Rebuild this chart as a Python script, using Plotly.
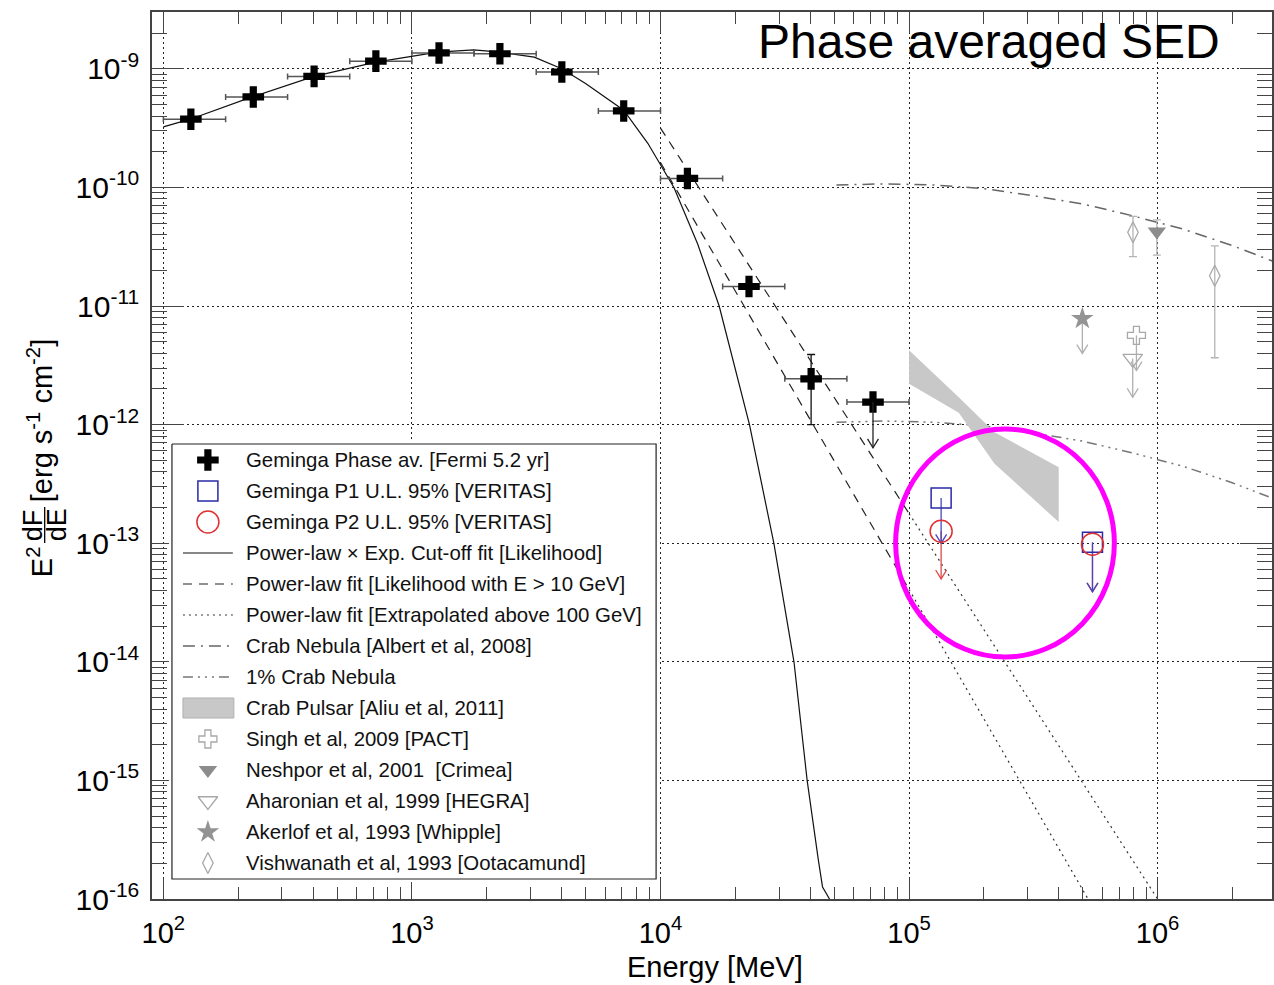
import plotly.graph_objects as go

# ---------------- data ----------------
# Fermi-LAT phase averaged SED (E in MeV, E^2 dF/dE in erg s^-1 cm^-2)
fermi_E   = [129, 230, 404, 716, 1285, 2259, 4009, 7112, 12830, 22700, 40360, 71600]
fermi_F   = [3.76e-10, 5.79e-10, 8.63e-10, 1.16e-09, 1.36e-09, 1.34e-09,
             9.4e-10, 4.41e-10, 1.19e-10, 1.46e-11, 2.43e-12, 1.55e-12]
fermi_Elo = [100, 178, 316, 562, 1000, 1778, 3162, 5623, 10000, 17783, 31623, 56234]
fermi_Ehi = [178, 316, 562, 1000, 1778, 3162, 5623, 10000, 17783, 31623, 56234, 100000]
fermi_Fhi = [3.76e-10, 5.79e-10, 8.63e-10, 1.16e-09, 1.36e-09, 1.34e-09,
             9.4e-10, 4.41e-10, 1.19e-10, 1.46e-11, 3.9e-12, 1.55e-12]
fermi_Flo = [3.76e-10, 5.79e-10, 8.63e-10, 1.16e-09, 1.36e-09, 1.34e-09,
             9.4e-10, 4.41e-10, 1.19e-10, 1.46e-11, 1.0e-12, 1.55e-12]
fermi_ul_E, fermi_ul_F, fermi_ul_tip = [71600], [1.55e-12], [6.37e-13]

# VERITAS 95% upper limits
p1_E, p1_F, p1_tip = [134600, 547000], [2.40e-13, 1.02e-13], [1.0e-13, 3.9e-14]
p2_E, p2_F, p2_tip = [134600, 547000], [1.26e-13, 9.8e-14], [5.0e-14, 3.9e-14]

# Power-law x exp. cut-off fit (log10 E, log10 E^2dF/dE)
cutoff_logE = [2.0, 2.108, 2.357, 2.606, 2.855, 3.104, 3.249, 3.354, 3.492, 3.603, 3.70,
               3.852, 3.949, 4.054, 4.15, 4.236, 4.358, 4.456, 4.537, 4.59, 4.635, 4.652, 4.68]
cutoff_logF = [-9.49, -9.425, -9.237, -9.064, -8.944, -8.860, -8.841, -8.860, -8.902, -9.0, -9.126,
               -9.349, -9.628, -10.0, -10.48, -11.0, -12.0, -13.0, -14.0, -15.0, -15.67, -15.9, -16.0]

# Power-law fit above 10 GeV (two bounding lines), dashed part and extrapolation
plA_dash_logE, plA_dash_logF = [4.0, 5.0], [-9.50, -12.75]
plB_dash_logE, plB_dash_logF = [4.0, 5.0], [-9.79, -13.39]
plA_dot_logE,  plA_dot_logF  = [5.0, 6.0], [-12.75, -16.0]
plB_dot_logE,  plB_dot_logF  = [5.0, 5.72], [-13.39, -16.0]

# Crab Nebula (MAGIC) and 1% Crab
crab_logE   = [4.708, 4.9, 5.1, 5.3, 5.5, 5.7, 5.9, 6.1, 6.3, 6.461]
crab_logF   = [-9.98, -9.97, -9.98, -10.01, -10.07, -10.14, -10.24, -10.35, -10.49, -10.62]
crab1_logF  = [-11.98, -11.97, -11.98, -12.01, -12.07, -12.14, -12.24, -12.35, -12.49, -12.62]

# Crab pulsar band (VERITAS 2011) polygon
band_E = [1.0e5, 1.585e5, 2.208e5, 4.0e5, 4.0e5, 2.208e5, 1.585e5, 1.0e5]
band_F = [4.23e-12, 1.70e-12, 8.61e-13, 4.37e-13, 1.51e-13, 4.68e-13, 1.26e-12, 2.21e-12]

# Historic measurements
vish_E, vish_F = [796000, 1698000], [4.19e-11, 1.80e-11]
vish_Fhi, vish_Flo = [5.69e-11, 3.21e-11], [2.61e-11, 3.66e-12]
nesh_E, nesh_F, nesh_Fhi, nesh_Flo = [993000], [4.25e-11], [5.32e-11], [2.69e-11]
aker_E, aker_F, aker_tip = [498000], [7.83e-12], [3.98e-12]
singh_E, singh_F, singh_tip = [822000], [5.66e-12], [2.86e-12]
ahar_E, ahar_F, ahar_tip = [794000], [3.60e-12], [1.70e-12]

# highlight ellipse (log10 bounds)
ell_logE = [4.946, 5.826]
ell_logF = [-13.96, -12.037]

# axis ticks
x_tickvals = [1e2, 1e3, 1e4, 1e5, 1e6]
x_ticktext = ["10<sup>2</sup>", "10<sup>3</sup>", "10<sup>4</sup>", "10<sup>5</sup>", "10<sup>6</sup>"]
y_tickvals = [1e-16, 1e-15, 1e-14, 1e-13, 1e-12, 1e-11, 1e-10, 1e-9]
y_ticktext = ["10<sup>-16</sup>", "10<sup>-15</sup>", "10<sup>-14</sup>", "10<sup>-13</sup>",
              "10<sup>-12</sup>", "10<sup>-11</sup>", "10<sup>-10</sup>", "10<sup>-9</sup>"]

legend_labels = [
    "Geminga Phase av. [Fermi 5.2 yr]",
    "Geminga P1 U.L. 95% [VERITAS]",
    "Geminga P2 U.L. 95% [VERITAS]",
    "Power-law \u00d7 Exp. Cut-off fit [Likelihood]",
    "Power-law fit [Likelihood with E > 10 GeV]",
    "Power-law fit [Extrapolated above 100 GeV]",
    "Crab Nebula [Albert et al, 2008]",
    "1% Crab Nebula",
    "Crab Pulsar [Aliu et al, 2011]",
    "Singh et al, 2009 [PACT]",
    "Neshpor et al, 2001 \u00a0[Crimea]",
    "Aharonian et al, 1999 [HEGRA]",
    "Akerlof et al, 1993 [Whipple]",
    "Vishwanath et al, 1993 [Ootacamund]",
]

# ---------------- layout geometry ----------------
FW, FH = 1274, 985
L, R, T, B = 152, 1274, 12, 899
PXW, PXH = R - L, B - T
X_PER_DEC, Y_PER_DEC = 249.0, 118.6
xr = [1.9542, 1.9542 + PXW / X_PER_DEC]
yr = [-16.0, -16.0 + PXH / Y_PER_DEC]

FONT = "Liberation Sans, Arial, Helvetica, sans-serif"

def px(xp):
    return (xp - L) / PXW

def py(yp):
    return (B - yp) / PXH

def tenpow(vals):
    return [10 ** v for v in vals]

def arrows(E, F, tip, hx=0.022, hy=0.075):
    xs, ys = [], []
    for e, f, t in zip(E, F, tip):
        xs += [e, e, None, e * 10 ** (-hx), e, e * 10 ** hx, None]
        ys += [f, t, None, t * 10 ** hy, t, t * 10 ** hy, None]
    return xs, ys

fig = go.Figure()

def line(xv, yv, color, width, dash="solid", **kw):
    fig.add_trace(go.Scatter(x=xv, y=yv, mode="lines", hoverinfo="skip",
                             line=dict(color=color, width=width, dash=dash), showlegend=False, **kw))

DASH = "9px,7px"
DOT = "2px,4px"
DASHDOT = "12px,6px,2px,6px"
DASHDOT3 = "10px,5px,2px,5px,2px,5px,2px,5px"

# Crab nebula curves
line(tenpow(crab_logE), tenpow(crab_logF), "#666666", 1.5, DASHDOT)
line(tenpow(crab_logE), tenpow(crab1_logF), "#777777", 1.5, DASHDOT3)
# fits
line(tenpow(cutoff_logE), tenpow(cutoff_logF), "#111111", 1.2)
line(tenpow(plA_dash_logE), tenpow(plA_dash_logF), "#222222", 1.2, DASH)
line(tenpow(plB_dash_logE), tenpow(plB_dash_logF), "#222222", 1.2, DASH)
line(tenpow(plA_dot_logE), tenpow(plA_dot_logF), "#333333", 1.2, DOT)
line(tenpow(plB_dot_logE), tenpow(plB_dot_logF), "#333333", 1.2, DOT)

# Crab pulsar band
fig.add_trace(go.Scatter(x=band_E, y=band_F, mode="lines", fill="toself", fillcolor="#c8c8c8",
                         line=dict(width=0, color="#c8c8c8"), hoverinfo="skip", showlegend=False))

# historic points
GRAY = "#a8a8a8"
ax_, ay_ = arrows(aker_E + singh_E + ahar_E, aker_F + singh_F + ahar_F, aker_tip + singh_tip + ahar_tip)
line(ax_, ay_, "#b0b0b0", 1.3)
fig.add_trace(go.Scatter(
    x=vish_E, y=vish_F, mode="markers", hoverinfo="skip", showlegend=False,
    error_y=dict(type="data", symmetric=False,
                 array=[h - f for h, f in zip(vish_Fhi, vish_F)],
                 arrayminus=[f - l for f, l in zip(vish_F, vish_Flo)],
                 color="#b4b4b4", thickness=1.3, width=4),
    marker=dict(symbol="diamond-tall-open", size=15, color=GRAY, line=dict(width=1.3, color=GRAY))))
fig.add_trace(go.Scatter(
    x=nesh_E, y=nesh_F, mode="markers", hoverinfo="skip", showlegend=False,
    error_y=dict(type="data", symmetric=False,
                 array=[h - f for h, f in zip(nesh_Fhi, nesh_F)],
                 arrayminus=[f - l for f, l in zip(nesh_F, nesh_Flo)],
                 color="#b4b4b4", thickness=1.3, width=4),
    marker=dict(symbol="triangle-down", size=16, color="#8c8c8c")))
fig.add_trace(go.Scatter(x=aker_E, y=aker_F, mode="markers", hoverinfo="skip", showlegend=False,
                         marker=dict(symbol="star", size=17, color="#939393")))
fig.add_trace(go.Scatter(x=singh_E, y=singh_F, mode="markers", hoverinfo="skip", showlegend=False,
                         marker=dict(symbol="cross-open", size=15, color=GRAY, line=dict(width=1.3, color=GRAY))))
fig.add_trace(go.Scatter(x=ahar_E, y=ahar_F, mode="markers", hoverinfo="skip", showlegend=False,
                         marker=dict(symbol="triangle-down-open", size=17, color=GRAY, line=dict(width=1.3, color=GRAY))))

# Fermi points
fig.add_trace(go.Scatter(
    x=fermi_E, y=fermi_F, mode="markers", hoverinfo="skip", showlegend=False,
    error_x=dict(type="data", symmetric=False,
                 array=[h - e for h, e in zip(fermi_Ehi, fermi_E)],
                 arrayminus=[e - l for e, l in zip(fermi_E, fermi_Elo)],
                 color="#555555", thickness=1.5, width=3),
    error_y=dict(type="data", symmetric=False,
                 array=[h - f for h, f in zip(fermi_Fhi, fermi_F)],
                 arrayminus=[f - l for f, l in zip(fermi_F, fermi_Flo)],
                 color="#111111", thickness=1.3, width=4),
    marker=dict(symbol="cross", size=18, color="black", line=dict(width=0))))
fx, fy = arrows(fermi_ul_E, fermi_ul_F, fermi_ul_tip)
line(fx, fy, "#222222", 1.3)

# VERITAS upper limits
rx, ry = arrows(p2_E, p2_F, p2_tip)
line(rx, ry, "#e04848", 1.3)
bx, by = arrows(p1_E, p1_F, p1_tip)
line(bx, by, "#4848c0", 1.3)
fig.add_trace(go.Scatter(x=p1_E, y=p1_F, mode="markers", hoverinfo="skip", showlegend=False,
                         marker=dict(symbol="square-open", size=20, color="#2a2aa8", line=dict(width=1.5, color="#2a2aa8"))))
fig.add_trace(go.Scatter(x=p2_E, y=p2_F, mode="markers", hoverinfo="skip", showlegend=False,
                         marker=dict(symbol="circle-open", size=22, color="#e03030", line=dict(width=1.5, color="#e03030"))))

# ---------------- hand-made legend on its own hidden axes ----------------
LBX0, LBX1, LBY0, LBY1 = 172, 657, 444, 879
LW, LH = LBX1 - LBX0, LBY1 - LBY0
PAD = 3
ROW0, ROWSTEP = 16, 31
SYM_X, LINE_X0, LINE_X1, TXT_X = 36, 11, 61, 72
rows = [ROW0 + ROWSTEP * i for i in range(len(legend_labels))]

def lg(trace):
    trace.update(xaxis="x2", yaxis="y2", hoverinfo="skip", showlegend=False)
    fig.add_trace(trace)

lg(go.Scatter(x=[0, LW, LW, 0, 0], y=[0, 0, LH, LH, 0], mode="lines", fill="toself",
              fillcolor="white", line=dict(color="#222222", width=1.2)))
lg(go.Scatter(x=[SYM_X], y=[rows[0]], mode="markers", marker=dict(symbol="cross", size=18, color="black")))
lg(go.Scatter(x=[SYM_X], y=[rows[1]], mode="markers",
              marker=dict(symbol="square-open", size=20, color="#2a2aa8", line=dict(width=1.5, color="#2a2aa8"))))
lg(go.Scatter(x=[SYM_X], y=[rows[2]], mode="markers",
              marker=dict(symbol="circle-open", size=22, color="#e03030", line=dict(width=1.5, color="#e03030"))))
for r, (col, dash, w) in zip(rows[3:8], [("#111111", "solid", 1.2), ("#222222", DASH, 1.2),
                                        ("#333333", DOT, 1.2), ("#666666", DASHDOT, 1.5),
                                        ("#777777", DASHDOT3, 1.5)]):
    lg(go.Scatter(x=[LINE_X0, LINE_X1], y=[r, r], mode="lines", line=dict(color=col, width=w, dash=dash)))
lg(go.Scatter(x=[LINE_X0, LINE_X1 + 1, LINE_X1 + 1, LINE_X0, LINE_X0],
              y=[rows[8] - 10, rows[8] - 10, rows[8] + 10, rows[8] + 10, rows[8] - 10],
              mode="lines", fill="toself", fillcolor="#c8c8c8", line=dict(color="#b0b0b0", width=1)))
lg(go.Scatter(x=[SYM_X], y=[rows[9]], mode="markers",
              marker=dict(symbol="cross-open", size=15, color=GRAY, line=dict(width=1.3, color=GRAY))))
lg(go.Scatter(x=[SYM_X], y=[rows[10]], mode="markers", marker=dict(symbol="triangle-down", size=16, color="#8c8c8c")))
lg(go.Scatter(x=[SYM_X], y=[rows[11]], mode="markers",
              marker=dict(symbol="triangle-down-open", size=17, color=GRAY, line=dict(width=1.3, color=GRAY))))
lg(go.Scatter(x=[SYM_X], y=[rows[12]], mode="markers", marker=dict(symbol="star", size=17, color="#939393")))
lg(go.Scatter(x=[SYM_X], y=[rows[13]], mode="markers",
              marker=dict(symbol="diamond-tall-open", size=15, color=GRAY, line=dict(width=1.3, color=GRAY))))

annotations = []
for r, txt in zip(rows, legend_labels):
    annotations.append(dict(xref="x2", yref="y2", x=TXT_X, y=r, text=txt, showarrow=False,
                            xanchor="left", yanchor="middle", font=dict(family=FONT, size=20.4, color="#111111")))

# title and axis titles
annotations += [
    dict(xref="paper", yref="paper", x=px(1224), y=py(41), text="Phase averaged SED", showarrow=False,
         xanchor="right", yanchor="middle", font=dict(family=FONT, size=48, color="black")),
    dict(xref="paper", yref="paper", x=px(716), y=py(967), text="Energy [MeV]", showarrow=False,
         xanchor="center", yanchor="middle", font=dict(family=FONT, size=29, color="black")),
    dict(xref="paper", yref="paper", x=px(40), y=py(562), text="E<sup>2</sup>", showarrow=False, textangle=-90,
         xanchor="center", yanchor="middle", font=dict(family=FONT, size=29, color="black")),
    dict(xref="paper", yref="paper", x=px(33), y=py(525), text="dF", showarrow=False, textangle=-90,
         xanchor="center", yanchor="middle", font=dict(family=FONT, size=27, color="black")),
    dict(xref="paper", yref="paper", x=px(57), y=py(525), text="dE", showarrow=False, textangle=-90,
         xanchor="center", yanchor="middle", font=dict(family=FONT, size=27, color="black")),
    dict(xref="paper", yref="paper", x=px(40), y=py(421), text="[erg s<sup>-1</sup> cm<sup>-2</sup>]",
         showarrow=False, textangle=-90, xanchor="center", yanchor="middle",
         font=dict(family=FONT, size=29, color="black")),
]

shapes = [
    dict(type="line", xref="paper", yref="paper", x0=px(44.5), x1=px(44.5), y0=py(507), y1=py(543),
         line=dict(color="black", width=1.3)),
    dict(type="circle", xref="x", yref="y", layer="above",
         x0=10 ** ell_logE[0], x1=10 ** ell_logE[1], y0=10 ** ell_logF[0], y1=10 ** ell_logF[1],
         line=dict(color="#ff00ff", width=5)),
]

AXC = "#444444"
GRID = dict(showgrid=True, gridcolor="#222222", gridwidth=1, griddash="2px,3px")
fig.update_layout(
    width=FW, height=FH,
    margin=dict(l=L, r=FW - R, t=T, b=FH - B, pad=0),
    paper_bgcolor="white", plot_bgcolor="white",
    font=dict(family=FONT, color="black"),
    showlegend=False,
    xaxis=dict(type="log", range=xr, domain=[0, 1], tickmode="array",
               tickvals=x_tickvals, ticktext=x_ticktext,
               ticks="inside", ticklen=21, tickwidth=1.2, tickcolor=AXC, mirror="allticks",
               showline=True, linecolor=AXC, linewidth=1.5, ticklabelstandoff=7,
               tickfont=dict(family=FONT, size=29, color="black"),
               minor=dict(ticks="inside", ticklen=12, tickwidth=1, tickcolor=AXC, dtick="D1", showgrid=False),
               zeroline=False, **GRID),
    yaxis=dict(type="log", range=yr, domain=[0, 1], tickmode="array",
               tickvals=y_tickvals, ticktext=y_ticktext,
               ticks="inside", ticklen=32, tickwidth=1.2, tickcolor=AXC, mirror="allticks",
               showline=True, linecolor=AXC, linewidth=1.5, ticklabelstandoff=5,
               tickfont=dict(family=FONT, size=30, color="black"),
               minor=dict(ticks="inside", ticklen=15, tickwidth=1, tickcolor=AXC, dtick="D1", showgrid=False),
               zeroline=False, **GRID),
    xaxis2=dict(visible=False, range=[-PAD, LW + PAD], anchor="y2",
                domain=[px(LBX0 - PAD), px(LBX1 + PAD)]),
    yaxis2=dict(visible=False, range=[LH + PAD, -PAD], anchor="x2",
                domain=[py(LBY1 + PAD), py(LBY0 - PAD)]),
    annotations=annotations,
    shapes=shapes,
)

fig.write_html("out.html")
